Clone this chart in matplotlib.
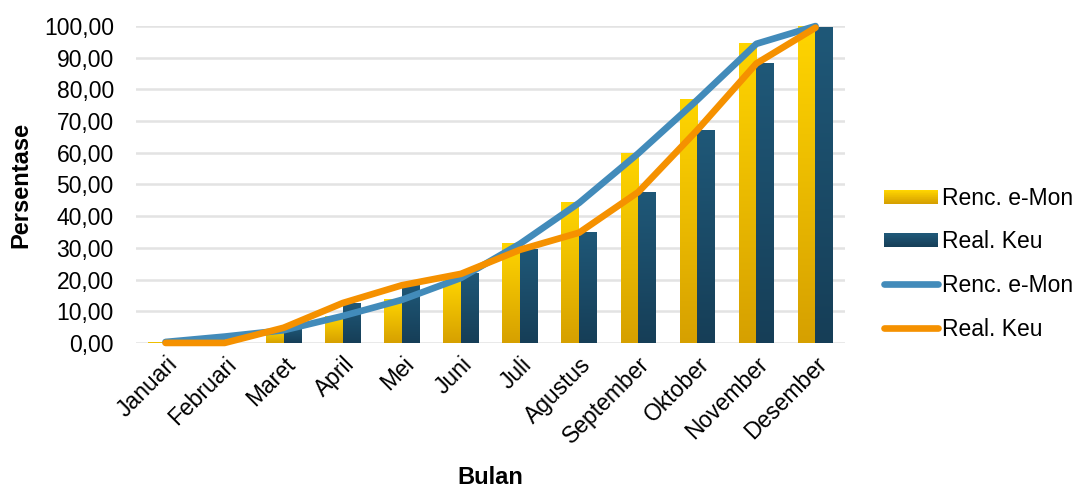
import matplotlib.pyplot as plt
import numpy as np
from matplotlib.colors import LinearSegmentedColormap
from matplotlib.legend_handler import HandlerBase
from matplotlib.patches import Rectangle, Patch
from matplotlib.lines import Line2D

plt.rcParams['font.family'] = ['Liberation Sans', 'DejaVu Sans']

bulan = ["Januari", "Februari", "Maret", "April", "Mei", "Juni", "Juli",
         "Agustus", "September", "Oktober", "November", "Desember"]

# cumulative percentage per month
renc_emon = [0.3, 2.0, 4.0, 8.5, 13.6, 20.5, 31.3, 44.2, 59.8, 76.7, 94.4, 100.0]
real_keu = [0.0, 0.0, 4.8, 12.6, 18.2, 21.8, 29.4, 34.8, 47.6, 67.2, 88.2, 99.5]

y_ticks = [0, 10, 20, 30, 40, 50, 60, 70, 80, 90, 100]

yellow_grad = LinearSegmentedColormap.from_list("yel", ["#D6A000", "#FFD500"])
blue_grad = LinearSegmentedColormap.from_list("blu", ["#163E57", "#1F5878"])

FS = 16.5


class GradientHandler(HandlerBase):
    # legend key drawn as a stack of thin strips
    def __init__(self, cmap):
        super().__init__()
        self.cmap = cmap

    def create_artists(self, legend, orig_handle, xdescent, ydescent,
                       width, height, fontsize, trans):
        artists = []
        n = 20
        h = height * 0.85
        y0 = -ydescent + (height - h) / 2
        for i in range(n):
            r = Rectangle((-xdescent, y0 + h * i / n), width, h / n + 0.3,
                          facecolor=self.cmap(i / (n - 1)), edgecolor='none',
                          transform=trans)
            artists.append(r)
        return artists


def gradient_bars(ax, xs, heights, width, cmap):
    grad = np.linspace(0, 1, 256).reshape(-1, 1)
    for x, h in zip(xs, heights):
        if h <= 0:
            continue
        ax.imshow(grad, cmap=cmap, origin='lower', aspect='auto',
                  extent=[x - width / 2, x + width / 2, 0, h], zorder=2,
                  interpolation='bilinear')


def main():
    fig = plt.figure(figsize=(10.82, 4.92), dpi=100)
    ax = fig.add_axes([0.1257, 0.303, 0.6553, 0.644])

    x = np.arange(len(bulan))
    w = 0.3

    gradient_bars(ax, x - w / 2, renc_emon, w, yellow_grad)
    gradient_bars(ax, x + w / 2, real_keu, w, blue_grad)

    ax.plot(x, renc_emon, color='#428BBA', lw=4.8, solid_capstyle='round',
            solid_joinstyle='round', zorder=3, clip_on=False)
    ax.plot(x, real_keu, color='#F59100', lw=4.8, solid_capstyle='round',
            solid_joinstyle='round', zorder=4, clip_on=False)

    ax.set_xlim(-0.5, len(bulan) - 0.5)
    ax.set_ylim(0, 100)
    ax.set_yticks(y_ticks)
    ax.set_yticklabels([f"{v:.2f}".replace('.', ',') for v in y_ticks],
                       fontsize=FS)
    ax.set_xticks(x)
    ax.set_xticklabels(bulan, rotation=45, ha='right', rotation_mode='anchor',
                       fontsize=FS)

    ax.grid(axis='y', color='#E3E3E3', lw=1.8, zorder=0)
    ax.set_axisbelow(True)
    for s in ax.spines.values():
        s.set_visible(False)
    ax.tick_params(axis='y', length=0, pad=16)
    ax.tick_params(axis='x', length=0, pad=7)

    ax.set_xlabel("Bulan", fontsize=17, fontweight='bold', labelpad=13)
    ax.set_ylabel("Persentase", fontsize=17, fontweight='bold', labelpad=8)

    handles = [Patch(), Patch(),
               Line2D([], [], color='#428BBA', lw=4.8, solid_capstyle='round'),
               Line2D([], [], color='#F59100', lw=4.8, solid_capstyle='round')]
    labels = ["Renc. e-Mon", "Real. Keu", "Renc. e-Mon", "Real. Keu"]
    fig.legend(handles, labels, loc='center left',
               bbox_to_anchor=(0.802, 0.464), frameon=False, fontsize=FS,
               handlelength=2.35, handletextpad=0.2, labelspacing=0.9,
               borderpad=0.2,
               handler_map={handles[0]: GradientHandler(yellow_grad),
                            handles[1]: GradientHandler(blue_grad)})

    fig.savefig("out.png", dpi=100)


if __name__ == "__main__":
    main()
